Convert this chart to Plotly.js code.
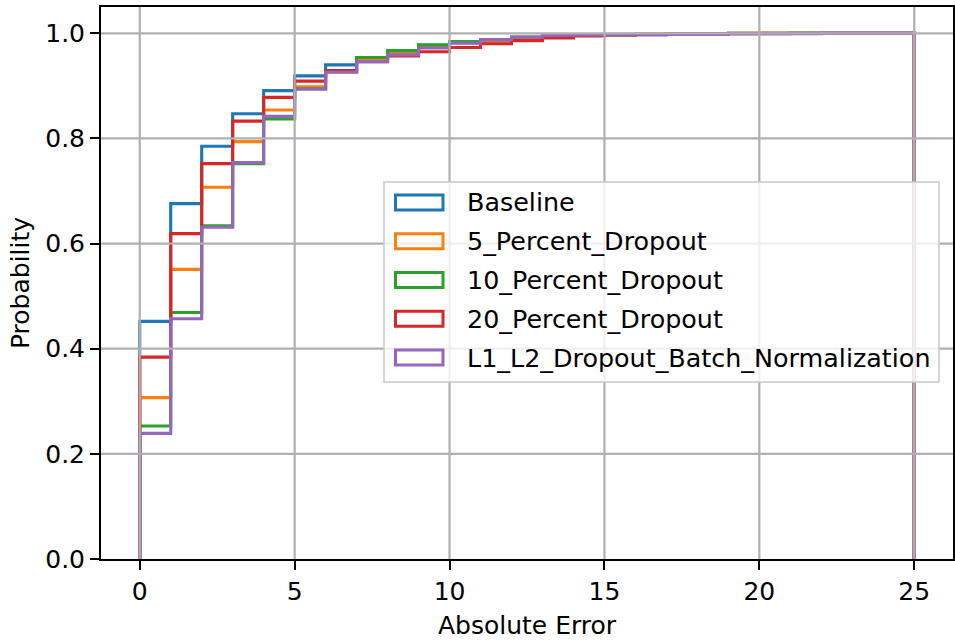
<!DOCTYPE html>
<html>
<head>
<meta charset="utf-8">
<script src="https://cdn.plot.ly/plotly-3.0.1.min.js"></script>
<style>
  html, body { margin: 0; padding: 0; background: #ffffff; }
  #chart { width: 955px; height: 644px; }
</style>
</head>
<body>
<div id="chart"></div>
<script>
// ---- data (cumulative probability per 1-unit bin, bins 0..25) ----
const binEdges = [0,1,2,3,4,5,6,7,8,9,10,11,12,13,14,15,16,17,18,19,20,21,22,23,24,25];
const seriesNames = ["Baseline", "5_Percent_Dropout", "10_Percent_Dropout", "20_Percent_Dropout", "L1_L2_Dropout_Batch_Normalization"];
const baseline = [0.452, 0.676, 0.785, 0.847, 0.891, 0.919, 0.940, 0.953, 0.966, 0.977, 0.984, 0.988, 0.992, 0.995, 0.996, 0.997, 0.998, 0.998, 0.999, 0.999, 0.999, 1.0, 1.0, 1.0, 1.0];
const dropout5 = [0.307, 0.551, 0.707, 0.794, 0.854, 0.898, 0.928, 0.950, 0.963, 0.975, 0.982, 0.985, 0.990, 0.994, 0.996, 0.997, 0.998, 0.999, 0.999, 0.999, 1.0, 1.0, 1.0, 1.0, 1.0];
const dropout10 = [0.253, 0.469, 0.634, 0.752, 0.837, 0.894, 0.927, 0.954, 0.967, 0.978, 0.984, 0.988, 0.993, 0.997, 0.997, 0.998, 0.998, 0.999, 0.999, 1.0, 1.0, 1.0, 1.0, 1.0, 1.0];
const dropout20 = [0.384, 0.619, 0.752, 0.833, 0.878, 0.909, 0.929, 0.946, 0.957, 0.965, 0.973, 0.980, 0.986, 0.991, 0.995, 0.997, 0.998, 0.999, 0.999, 1.0, 1.0, 1.0, 1.0, 1.0, 1.0];
const l1l2bn = [0.239, 0.457, 0.631, 0.754, 0.842, 0.894, 0.926, 0.946, 0.959, 0.972, 0.981, 0.988, 0.993, 0.996, 0.997, 0.997, 0.997, 0.998, 0.998, 0.999, 0.999, 0.999, 1.0, 1.0, 1.0];
const xTicks = [0, 5, 10, 15, 20, 25];
const yTicks = [0.0, 0.2, 0.4, 0.6, 0.8, 1.0];

// ---- styling ----
const colors = ["#1f77b4", "#ff7f0e", "#2ca02c", "#d62728", "#9467bd"];
const allSeries = [baseline, dropout5, dropout10, dropout20, l1l2bn];
const FONT = "DejaVu Sans, Liberation Sans, sans-serif";
const FS = 25;
const LFS = 25.4;

// plot area in pixels
const L = 101, R = 953, T = 7, B = 559;
const px = X => (X - L) / (R - L);
const py = Y => (B - Y) / (B - T);

function stepXY(vals) {
  const xs = [binEdges[0]], ys = [0];
  for (let i = 0; i < vals.length; i++) { xs.push(binEdges[i]); ys.push(vals[i]); }
  const last = binEdges[binEdges.length - 1];
  xs.push(last); ys.push(vals[vals.length - 1]);
  xs.push(last); ys.push(0);
  return {xs, ys};
}

const traces = allSeries.map((vals, k) => {
  const s = stepXY(vals);
  return {
    type: "scatter", mode: "lines", x: s.xs, y: s.ys,
    line: {shape: "hv", color: colors[k], width: 3.1},
    name: seriesNames[k], showlegend: false, hoverinfo: "skip"
  };
});

const shapes = [];
const gridColor = "#b0b0b0";
xTicks.forEach(v => shapes.push({type: "line", layer: "above", xref: "x", yref: "paper", x0: v, x1: v, y0: 0, y1: 1, line: {color: gridColor, width: 2.2}}));
yTicks.forEach(v => { if (v > 0) shapes.push({type: "line", layer: "above", xref: "paper", yref: "y", x0: 0, x1: 1, y0: v, y1: v, line: {color: gridColor, width: 2.2}}); });

// manual legend (matplotlib style: outlined patches)
shapes.push({type: "rect", layer: "above", xref: "paper", yref: "paper",
  x0: px(384), x1: px(939), y0: py(382), y1: py(182),
  fillcolor: "rgba(255,255,255,0.8)", line: {color: "rgba(204,204,204,0.8)", width: 2}});
const rowY = [202.5, 241.3, 280, 318.8, 357.5];
const annotations = [];
seriesNames.forEach((nm, k) => {
  shapes.push({type: "rect", layer: "above", xref: "paper", yref: "paper",
    x0: px(395.5), x1: px(443), y0: py(rowY[k] + 7.5), y1: py(rowY[k] - 7.5),
    fillcolor: "rgba(0,0,0,0)", line: {color: colors[k], width: 3}});
  annotations.push({xref: "paper", yref: "paper", x: px(465), y: py(rowY[k]),
    xanchor: "left", yanchor: "middle", showarrow: false, text: nm,
    font: {family: FONT, size: LFS, color: "#000"}});
});

const axisCommon = {
  showline: true, linecolor: "#000", linewidth: 2, mirror: true,
  ticks: "outside", ticklen: 9, tickwidth: 2, tickcolor: "#000",
  showgrid: false, zeroline: false,
  tickfont: {family: FONT, size: FS, color: "#000"}
};

const layout = {
  width: 955, height: 644,
  margin: {l: L, r: 955 - R, t: T, b: 644 - B, pad: 0},
  paper_bgcolor: "#fff", plot_bgcolor: "#fff",
  showlegend: false,
  xaxis: Object.assign({}, axisCommon, {
    range: [-1.25, 26.25], tickvals: xTicks, ticktext: xTicks.map(String),
    title: {text: "Absolute Error", font: {family: FONT, size: FS, color: "#000"}, standoff: 11}
  }),
  yaxis: Object.assign({}, axisCommon, {
    range: [0, 1.05], tickvals: yTicks, ticktext: yTicks.map(v => v.toFixed(1)),
    title: {text: "Probability", font: {family: FONT, size: FS, color: "#000"}, standoff: 8}
  }),
  shapes: shapes,
  annotations: annotations
};

Plotly.newPlot("chart", traces, layout, {staticPlot: true, displayModeBar: false});
</script>
</body>
</html>
